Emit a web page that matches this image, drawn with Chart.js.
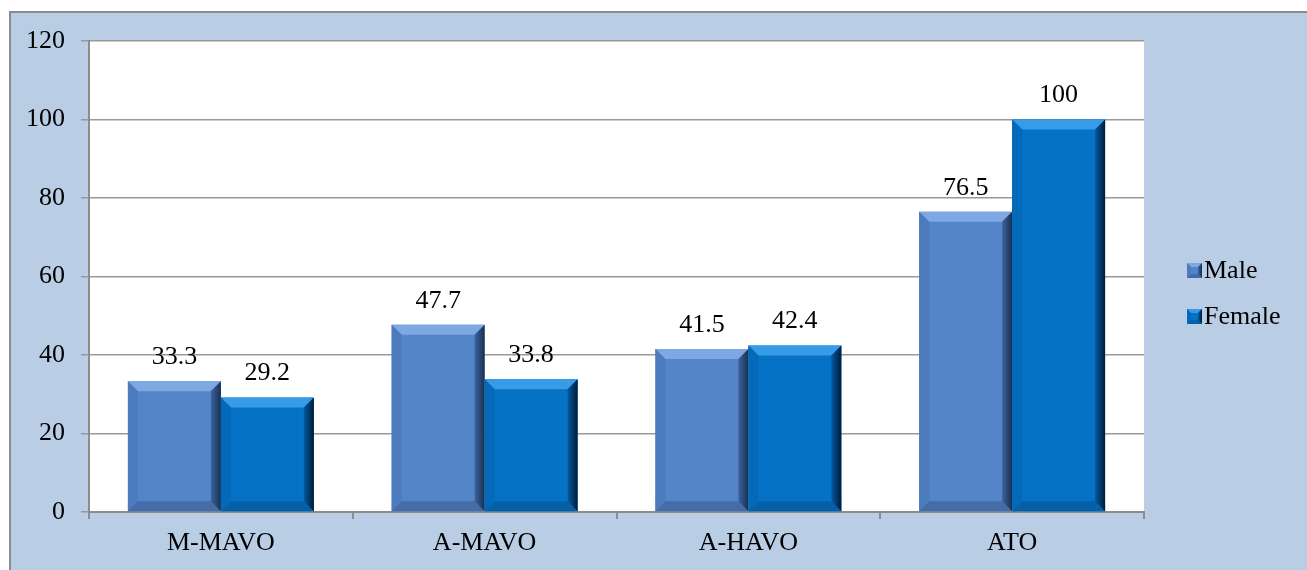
<!DOCTYPE html>
<html>
<head>
<meta charset="utf-8">
<script src="https://cdn.jsdelivr.net/npm/chart.js@4/dist/chart.umd.min.js"></script>
<style>
  html, body { margin: 0; padding: 0; background: #ffffff; overflow: hidden; }
  #frame { position: absolute; left: 9px; top: 11px; width: 1400px; height: 700px;
           background: #B9CDE5; border: 2px solid #8C8C8C; }
  #wrap { position: absolute; left: 0; top: 0; width: 1307px; height: 570px; }
</style>
</head>
<body>
<div id="frame"></div>
<div id="wrap"><canvas id="c" width="1307" height="570"></canvas></div>
<script>
const categories = ['M-MAVO', 'A-MAVO', 'A-HAVO', 'ATO'];
const seriesNames = ['Male', 'Female'];
const maleValues = [33.3, 47.7, 41.5, 76.5];
const femaleValues = [29.2, 33.8, 42.4, 100];
const yTicks = [0, 20, 40, 60, 80, 100, 120];

const FONT = "'Liberation Serif', 'Times New Roman', serif";
const FSIZE = 26;
const palette = {
  Male:   { face: '#5585C9', top: '#7EA8E1', left: '#4D7CBE', bottom: '#446CA6', rightA: '#3C64A0', rightB: '#18304F' },
  Female: { face: '#0572C6', top: '#389BE8', left: '#0469B9', bottom: '#0460A8', rightA: '#035AA0', rightB: '#001C38' }
};

const plotBg = {
  id: 'plotBg',
  beforeDraw(chart) {
    const a = chart.chartArea, ctx = chart.ctx;
    ctx.save(); ctx.fillStyle = '#ffffff';
    ctx.fillRect(a.left, a.top, a.right - a.left, a.bottom - a.top);
    ctx.restore();
  }
};

function bevel(ctx, L, R, T, B, p, b) {
  ctx.fillStyle = p.top;
  ctx.beginPath(); ctx.moveTo(L, T); ctx.lineTo(R, T); ctx.lineTo(R - b, T + b); ctx.lineTo(L + b, T + b); ctx.closePath(); ctx.fill();
  ctx.fillStyle = p.left;
  ctx.beginPath(); ctx.moveTo(L, T); ctx.lineTo(L + b, T + b); ctx.lineTo(L + b, B - b); ctx.lineTo(L, B); ctx.closePath(); ctx.fill();
  ctx.fillStyle = p.bottom;
  ctx.beginPath(); ctx.moveTo(L, B); ctx.lineTo(L + b, B - b); ctx.lineTo(R - b, B - b); ctx.lineTo(R, B); ctx.closePath(); ctx.fill();
  const g = ctx.createLinearGradient(R - b, 0, R, 0);
  g.addColorStop(0, p.rightA); g.addColorStop(1, p.rightB);
  ctx.fillStyle = g;
  ctx.beginPath(); ctx.moveTo(R, T); ctx.lineTo(R, B); ctx.lineTo(R - b, B - b); ctx.lineTo(R - b, T + b); ctx.closePath(); ctx.fill();
}

const bevelPlugin = {
  id: 'bevelPlugin',
  afterDatasetsDraw(chart) {
    const ctx = chart.ctx;
    chart.data.datasets.forEach((ds, di) => {
      const p = palette[ds.label];
      chart.getDatasetMeta(di).data.forEach(bar => {
        const L = bar.x - bar.width / 2, R = bar.x + bar.width / 2;
        const T = Math.min(bar.y, bar.base), B = Math.max(bar.y, bar.base);
        ctx.save();
        bevel(ctx, L, R, T, B, p, 10);
        ctx.restore();
      });
    });
  }
};

const valueLabels = {
  id: 'valueLabels',
  afterDraw(chart) {
    const ctx = chart.ctx;
    ctx.save();
    ctx.font = FSIZE + 'px ' + FONT; ctx.fillStyle = '#000'; ctx.textAlign = 'center'; ctx.textBaseline = 'middle';
    chart.data.datasets.forEach((ds, di) => {
      chart.getDatasetMeta(di).data.forEach((bar, i) => {
        ctx.fillText(String(ds.data[i]), bar.x, bar.y - 24);
      });
    });
    ctx.restore();
  }
};

const legendPlugin = {
  id: 'legendPlugin',
  afterDraw(chart) {
    const ctx = chart.ctx;
    ctx.save();
    ctx.font = FSIZE + 'px ' + FONT; ctx.textAlign = 'left'; ctx.textBaseline = 'middle';
    chart.data.datasets.forEach((ds, di) => {
      const cy = 270.5 + di * 46, x0 = 1187, s = 15;
      const p = palette[ds.label];
      ctx.fillStyle = p.face;
      ctx.fillRect(x0, cy - s / 2, s, s);
      bevel(ctx, x0, x0 + s, cy - s / 2, cy + s / 2, p, 4);
      ctx.fillStyle = '#000';
      ctx.fillText(ds.label, x0 + s + 2, cy + 1);
    });
    ctx.restore();
  }
};

new Chart(document.getElementById('c'), {
  type: 'bar',
  data: {
    labels: categories,
    datasets: [
      { label: seriesNames[0], data: maleValues, backgroundColor: palette.Male.face, borderWidth: 0 },
      { label: seriesNames[1], data: femaleValues, backgroundColor: palette.Female.face, borderWidth: 0 }
    ]
  },
  options: {
    responsive: false,
    animation: false,
    devicePixelRatio: 1,
    layout: { padding: { top: 41, right: 163, left: 0, bottom: 0 } },
    datasets: { bar: { barPercentage: 1.0, categoryPercentage: 0.705 } },
    plugins: { legend: { display: false }, tooltip: { enabled: false } },
    scales: {
      x: {
        afterFit(s) { s.height = 58; },
        grid: { offset: true, drawOnChartArea: false, drawTicks: true, tickLength: 7, color: '#8C8C8C', lineWidth: 2 },
        border: { display: true, color: '#8C8C8C', width: 2 },
        ticks: { font: { family: FONT, size: FSIZE }, color: '#000', padding: 9 }
      },
      y: {
        min: 0, max: 120,
        afterFit(s) { s.width = 89; },
        afterBuildTicks(s) { s.ticks = yTicks.map(v => ({ value: v })); },
        grid: { color: '#999999', lineWidth: 1.5, tickLength: 8, drawTicks: true },
        border: { display: true, color: '#8C8C8C', width: 2 },
        ticks: { font: { family: FONT, size: FSIZE }, color: '#000', padding: 16 }
      }
    }
  },
  plugins: [plotBg, bevelPlugin, valueLabels, legendPlugin]
});
</script>
</body>
</html>
